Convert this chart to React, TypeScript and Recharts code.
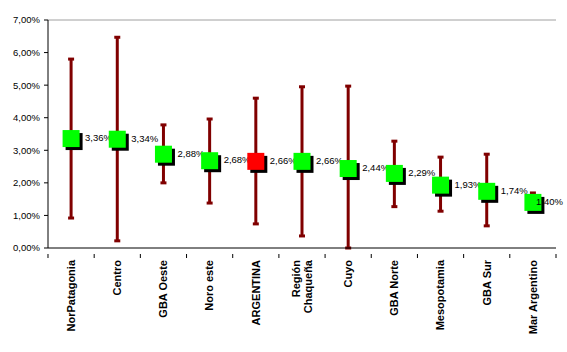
import React from "react";
import {
  ComposedChart,
  Line,
  ErrorBar,
  XAxis,
  YAxis,
  ReferenceLine,
} from "recharts";

const regions = [
  "NorPatagonia",
  "Centro",
  "GBA Oeste",
  "Noro este",
  "ARGENTINA",
  "Región Chaqueña",
  "Cuyo",
  "GBA Norte",
  "Mesopotamia",
  "GBA Sur",
  "Mar Argentino",
];

// tasa puntual (%)
const rates = [3.36, 3.34, 2.88, 2.68, 2.66, 2.66, 2.44, 2.29, 1.93, 1.74, 1.4];
// limites del intervalo (%)
const lows = [0.92, 0.22, 2.0, 1.38, 0.74, 0.37, 0.0, 1.27, 1.13, 0.68, 1.2];
const highs = [5.8, 6.47, 3.78, 3.96, 4.6, 4.95, 4.97, 3.28, 2.79, 2.88, 1.69];

const yTicks = [0, 1, 2, 3, 4, 5, 6, 7];

const data = regions.map((name, i) => ({
  name,
  value: rates[i],
  err: [rates[i] - lows[i], highs[i] - rates[i]],
}));

const fmt = (v: number) => v.toFixed(2).replace(".", ",") + "%";

const font = "Arial, 'Liberation Sans', sans-serif";

const Marker = (props: any) => {
  const { cx, cy, payload } = props;
  if (cx == null || cy == null) return null;
  const s = 17;
  const fill = payload.name === "ARGENTINA" ? "#ff0000" : "#00ff00";
  const lx = Math.min(cx + 14, 536);
  return (
    <g>
      <rect x={cx - s / 2 + 3} y={cy - s / 2 + 3} width={s} height={s} fill="#000" />
      <rect x={cx - s / 2} y={cy - s / 2} width={s} height={s} fill={fill} />
      <text
        x={lx}
        y={cy - 1}
        dominantBaseline="central"
        fontSize={9.5}
        fontFamily={font}
        fill="#000"
      >
        {fmt(payload.value)}
      </text>
    </g>
  );
};

const RegionTick = (props: any) => {
  const { x, y, payload } = props;
  const half = 46.2 / 2;
  const words = payload.value === "Región Chaqueña" ? ["Región", "Chaqueña"] : [payload.value];
  return (
    <g>
      <line x1={x - half} y1={y - 8} x2={x - half} y2={y - 4} stroke="#000" />
      {payload.index === regions.length - 1 && (
        <line x1={x + half} y1={y - 8} x2={x + half} y2={y - 4} stroke="#000" />
      )}
      <text
        transform={`translate(${x},${y - 2}) rotate(-90)`}
        textAnchor="end"
        fontSize={11}
        fontWeight="bold"
        fontFamily={font}
        fill="#000"
      >
        {words.length === 1 ? (
          <tspan x={0} dy="0.35em">{words[0]}</tspan>
        ) : (
          <>
            <tspan x={0} dy="-0.2em">{words[0]}</tspan>
            <tspan x={0} dy="1.1em">{words[1]}</tspan>
          </>
        )}
      </text>
    </g>
  );
};

export default function App() {
  return (
    <div style={{ position: "absolute", left: 0, top: 0, background: "#fff" }}>
      <ComposedChart
        width={567}
        height={352}
        data={data}
        margin={{ top: 20, right: 11, left: 0, bottom: 0 }}
      >
        <XAxis
          dataKey="name"
          scale="band"
          interval={0}
          height={104}
          axisLine={{ stroke: "#000" }}
          tickLine={false}
          tick={<RegionTick />}
          tickMargin={8}
        />
        <YAxis
          domain={[0, 7]}
          ticks={yTicks}
          width={48}
          axisLine={{ stroke: "#000" }}
          tickLine={{ stroke: "#000" }}
          tickSize={4}
          tickMargin={4}
          tickFormatter={fmt}
          tick={{ fontSize: 9.5, fill: "#000", fontFamily: font }}
        />
        <YAxis
          yAxisId="border"
          orientation="right"
          width={0}
          tick={false}
          tickLine={false}
          axisLine={{ stroke: "#a0a0a0" }}
        />
        <ReferenceLine y={7} stroke="#a0a0a0" />
        <Line
          dataKey="value"
          stroke="none"
          isAnimationActive={false}
          dot={<Marker />}
          activeDot={false}
        >
          <ErrorBar
            dataKey="err"
            direction="y"
            width={3}
            stroke="#800000"
            strokeWidth={3}
            isAnimationActive={false}
          />
        </Line>
      </ComposedChart>
    </div>
  );
}
